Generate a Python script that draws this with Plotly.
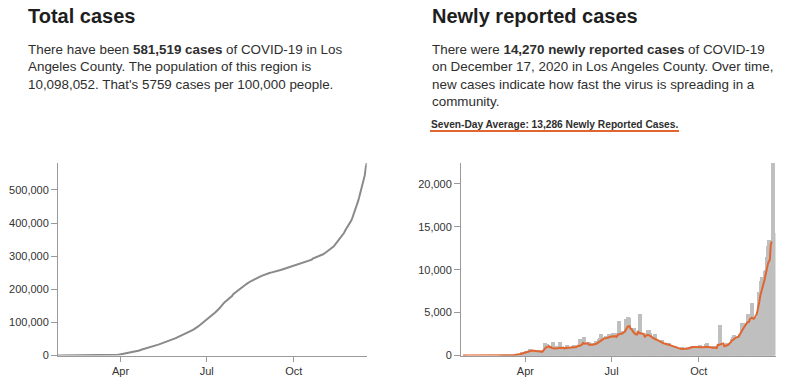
import pandas as pd
import plotly.graph_objects as go

# ---------------- data ----------------
start_date = "2020-01-26"
end_date = "2020-12-17"

new_jan = [1, 0, 0, 0, 0, 0]
new_feb = [0, 0, 0, 0, 0, 0, 0, 0, 0, 0, 0, 0, 0, 0, 0,
           0, 0, 0, 0, 0, 0, 0, 0, 0, 0, 0, 0, 0, 0]
new_mar = [0, 0, 0, 6, 0, 4, 2, 1, 2, 3, 10, 5, 8, 13, 16, 25, 50, 46, 41, 61,
           59, 58, 127, 126, 137, 417, 249, 339, 332, 338, 537]
new_apr = [534, 521, 534, 711, 663, 420, 550, 620, 425, 475, 443, 319, 228, 627, 449,
           358, 537, 630, 320, 1475, 1324, 1295, 1000, 1035, 1050, 440, 438, 1541, 597, 733]
new_may = [1137, 850, 500, 568, 1555, 1000, 1000, 850, 750, 600, 660, 960, 1250, 850,
           980, 950, 600, 700, 1120, 1200, 1050, 1000, 1000, 800, 800, 1950, 1200, 1250,
           1200, 1300, 2100]
new_jun = [1200, 1300, 1300, 1400, 1600, 1100, 900, 1000, 1400, 1400, 1400, 1700, 1450,
           1000, 1200, 1900, 2000, 2500, 2100, 2000, 1200, 1700, 2300, 2200, 2100, 2500,
           2000, 1900, 2100, 2600]
new_jul = [2000, 2650, 2350, 2100, 1900, 1600, 4015, 2500, 2750, 2800, 2300, 1800, 2600,
           4244, 3000, 4500, 4400, 3000, 2100, 2550, 2300, 2700, 3200, 2900, 2200, 1800,
           1900, 2500, 4825, 2400, 2500]
new_aug = [2100, 1800, 1600, 2300, 2600, 3000, 3000, 2600, 1500, 1300, 2000, 2100, 2000,
           2550, 1900, 1300, 1200, 1700, 1600, 1700, 1750, 1400, 1100, 1000, 1400, 1450,
           1300, 1400, 1300, 950, 900]
new_sep = [1100, 1100, 1000, 1100, 1000, 800, 650, 550, 700, 900, 1000, 800, 700, 650,
           700, 800, 900, 1000, 950, 800, 900, 1050, 1100, 1100, 1050, 1000, 750, 700,
           1000, 1200]
new_oct = [1100, 900, 900, 800, 700, 1000, 1300, 1500, 900, 900, 900, 700, 900, 1000,
           1100, 1000, 1000, 700, 600, 700, 3550, 1000, 1200, 1100, 1000, 900, 1100, 1200,
           1500, 1400, 1200]
new_nov = [1400, 1500, 1900, 2200, 2400, 2200, 2100, 1900, 1800, 2300, 2450, 2400, 3780,
           3700, 2900, 3000, 3750, 3740, 3740, 4836, 4800, 3300, 3200, 6124, 4400, 4200,
           4300, 4400, 4200, 4500]
new_dec = [7450, 7450, 7400, 8700, 9200, 7800, 7300, 9828, 10000, 11500, 12700, 13500,
           9850, 9400, 10860, 22422, 14270]

tick_dates = ["2020-04-01", "2020-07-01", "2020-10-01"]
tick_labels = ["Apr", "Jul", "Oct"]

left_title = "Total cases"
left_text = ("There have been <b>581,519 cases</b> of COVID-19 in Los<br>"
             "Angeles County. The population of this region is<br>"
             "10,098,052. That's 5759 cases per 100,000 people.")
right_title = "Newly reported cases"
right_text = ("There were <b>14,270 newly reported cases</b> of COVID-19<br>"
              "on December 17, 2020 in Los Angeles County. Over time,<br>"
              "new cases indicate how fast the virus is spreading in a<br>"
              "community.")
avg_label = "Seven-Day Average: 13,286 Newly Reported Cases."

# ---------------- derived series ----------------
daily = (new_jan + new_feb + new_mar + new_apr + new_may + new_jun + new_jul
         + new_aug + new_sep + new_oct + new_nov + new_dec)
dates = pd.date_range(start_date, end_date, freq="D")
s = pd.Series(daily, index=dates)
total = s.cumsum()
avg7 = s.rolling(7, min_periods=1).mean()

# ---------------- figure ----------------
W, H = 792, 384
FONT = "Liberation Sans, Arial, Helvetica, sans-serif"
ORANGE = "#e0652f"
AXIS = "#9a9a9a"


def fx(p):
    return p / W


def fy(p):
    return 1 - p / H


fig = go.Figure()
fig.add_trace(go.Scatter(x=dates, y=total, mode="lines",
                         line=dict(color="#8a8a8a", width=2),
                         xaxis="x", yaxis="y", showlegend=False))
fig.add_trace(go.Bar(x=dates, y=s, marker=dict(color="#bfbfbf", line=dict(width=0)),
                     width=4.2 * 86400000, offset=0,
                     xaxis="x2", yaxis="y2", showlegend=False))
fig.add_trace(go.Scatter(x=dates, y=avg7, mode="lines",
                         line=dict(color=ORANGE, width=2),
                         xaxis="x2", yaxis="y2", showlegend=False))

ydom = [fy(355.5), fy(163)]
common_axis = dict(showgrid=False, zeroline=False, showline=True, linecolor=AXIS,
                   linewidth=1, ticks="outside", tickcolor=AXIS,
                   tickfont=dict(size=11, color="#333", family=FONT), fixedrange=True)

fig.update_layout(
    width=W, height=H,
    margin=dict(l=0, r=0, t=0, b=0),
    paper_bgcolor="white", plot_bgcolor="white",
    template="none",
    bargap=0,
    font=dict(family=FONT, color="#333"),
    xaxis=dict(domain=[fx(58), fx(366.7)], range=["2020-01-26", "2020-12-17"],
               type="date", tickvals=tick_dates, ticktext=tick_labels,
               anchor="y", ticklen=5, **common_axis),
    yaxis=dict(domain=ydom, range=[0, total.max()], tickformat=",", dtick=100000,
               ticklen=6, anchor="x", **common_axis),
    xaxis2=dict(domain=[fx(461), fx(775.5)], range=["2020-01-24", "2020-12-21"],
                type="date", tickvals=tick_dates, ticktext=tick_labels,
                anchor="y2", ticklen=5, **common_axis),
    yaxis2=dict(domain=ydom, range=[0, s.max()], tickformat=",", dtick=5000,
                ticklen=6, anchor="x2", **common_axis),
)

ann = [
    dict(text="<b>" + left_title + "</b>", x=fx(26), y=fy(3),
         font=dict(size=20, color="#1e1e1e", family=FONT)),
    dict(text=left_text, x=fx(26), y=fy(40),
         font=dict(size=13.4, color="#2e2e2e", family=FONT)),
    dict(text="<b>" + right_title + "</b>", x=fx(430), y=fy(3),
         font=dict(size=20, color="#1e1e1e", family=FONT)),
    dict(text=right_text, x=fx(430), y=fy(40),
         font=dict(size=13.4, color="#2e2e2e", family=FONT)),
    dict(text="<b>" + avg_label + "</b>", x=fx(429), y=fy(117),
         font=dict(size=10.2, color="#2e2e2e", family=FONT)),
]
for a in ann:
    a.update(xref="paper", yref="paper", xanchor="left", yanchor="top",
             showarrow=False, align="left")
fig.update_layout(annotations=ann)
fig.add_shape(type="line", xref="paper", yref="paper",
              x0=fx(430), x1=fx(679), y0=fy(131), y1=fy(131),
              line=dict(color=ORANGE, width=2))

fig.write_html("out.html", config={"displayModeBar": False},
               post_script="document.body.style.margin='0';"
                           "document.body.style.overflow='hidden';")
